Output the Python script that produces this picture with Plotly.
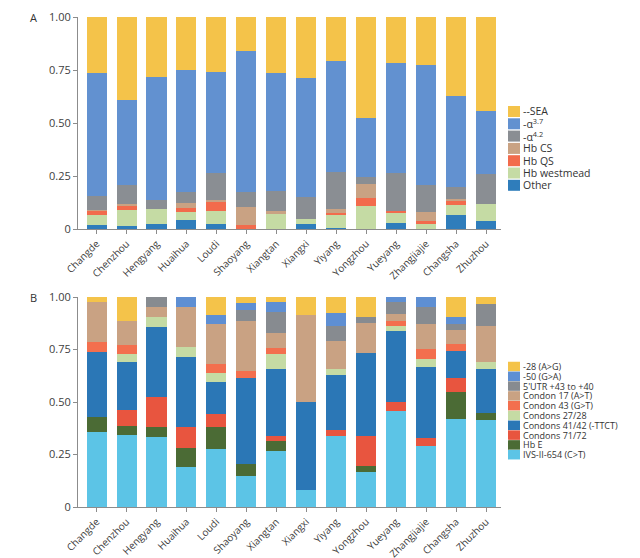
import plotly.graph_objects as go

cities = ["Changde", "Chenzhou", "Hengyang", "Huaihua", "Loudi", "Shaoyang", "Xiangtan",
          "Xiangxi", "Yiyang", "Yongzhou", "Yueyang", "Zhangjiajie", "Changsha", "Zhuzhou"]

# Panel A: segment heights (proportions)
a_names = ["Other", "Hb westmead", "Hb QS", "Hb CS", "-α<sup>4.2</sup>", "-α<sup>3.7</sup>", "--SEA"]
a_colors = ["#2F7DBB", "#C5DBA4", "#F26B4C", "#C9A283", "#8A8E93", "#6291D0", "#F4C34A"]
a_other    = [0.020, 0.016, 0.022, 0.041, 0.022, 0.000, 0.000, 0.025, 0.005, 0.000, 0.030, 0.000, 0.065, 0.038]
a_westmead = [0.045, 0.072, 0.071, 0.038, 0.062, 0.000, 0.073, 0.024, 0.060, 0.109, 0.047, 0.022, 0.047, 0.079]
a_qs       = [0.020, 0.024, 0.000, 0.022, 0.042, 0.020, 0.000, 0.000, 0.012, 0.039, 0.008, 0.016, 0.024, 0.000]
a_cs       = [0.006, 0.005, 0.000, 0.022, 0.010, 0.084, 0.012, 0.000, 0.016, 0.063, 0.000, 0.042, 0.004, 0.000]
a_a42      = [0.064, 0.090, 0.043, 0.052, 0.129, 0.071, 0.095, 0.102, 0.177, 0.035, 0.177, 0.127, 0.059, 0.142]
a_a37      = [0.580, 0.402, 0.580, 0.573, 0.475, 0.663, 0.558, 0.563, 0.523, 0.276, 0.523, 0.567, 0.430, 0.298]
a_sea      = [0.265, 0.391, 0.284, 0.252, 0.260, 0.162, 0.262, 0.286, 0.207, 0.478, 0.215, 0.226, 0.371, 0.443]

# Panel B
b_names = ["IVS-II-654 (C>T)", "Hb E", "Condons 71/72", "Condons 41/42 (-TTCT)", "Condons 27/28",
           "Condon 43 (G>T)", "Condon 17 (A>T)", "5'UTR +43 to +40", "-50 (G>A)", "-28 (A>G)"]
b_colors = ["#5CC4E6", "#4B6B35", "#E8553F", "#2B77B6", "#C5DBA4",
            "#F36F4E", "#C9A283", "#878B90", "#5E8FD3", "#F4C34A"]
b_ivs  = [0.357, 0.344, 0.333, 0.189, 0.278, 0.148, 0.267, 0.079, 0.337, 0.167, 0.459, 0.289, 0.417, 0.413]
b_hbe  = [0.072, 0.040, 0.046, 0.094, 0.103, 0.055, 0.047, 0.000, 0.000, 0.027, 0.000, 0.000, 0.129, 0.035]
b_7172 = [0.000, 0.076, 0.145, 0.096, 0.063, 0.000, 0.026, 0.000, 0.031, 0.146, 0.041, 0.041, 0.067, 0.000]
b_4142 = [0.309, 0.230, 0.333, 0.335, 0.151, 0.411, 0.319, 0.419, 0.262, 0.393, 0.337, 0.335, 0.128, 0.208]
b_2728 = [0.000, 0.039, 0.048, 0.048, 0.043, 0.000, 0.070, 0.000, 0.029, 0.000, 0.023, 0.041, 0.000, 0.033]
b_c43  = [0.048, 0.041, 0.000, 0.000, 0.045, 0.032, 0.028, 0.000, 0.000, 0.000, 0.024, 0.045, 0.034, 0.000]
b_c17  = [0.190, 0.116, 0.047, 0.190, 0.187, 0.238, 0.073, 0.418, 0.130, 0.145, 0.037, 0.122, 0.066, 0.173]
b_utr  = [0.000, 0.000, 0.048, 0.000, 0.000, 0.056, 0.099, 0.000, 0.073, 0.027, 0.055, 0.079, 0.029, 0.105]
b_m50  = [0.000, 0.000, 0.000, 0.048, 0.043, 0.033, 0.047, 0.000, 0.062, 0.000, 0.024, 0.048, 0.035, 0.000]
b_m28  = [0.024, 0.114, 0.000, 0.000, 0.087, 0.027, 0.024, 0.084, 0.076, 0.095, 0.000, 0.000, 0.095, 0.033]

a_series = [a_other, a_westmead, a_qs, a_cs, a_a42, a_a37, a_sea]
b_series = [b_ivs, b_hbe, b_7172, b_4142, b_2728, b_c43, b_c17, b_utr, b_m50, b_m28]

ticks_y = [0, 0.25, 0.5, 0.75, 1.0]
ticks_y_text = ["0", "0.25", "0.50", "0.75", "1.00"]

FONT = "Open Sans, Arial"
W, H = 640, 558
fig = go.Figure()
for name, col, vals in zip(a_names, a_colors, a_series):
    fig.add_trace(go.Bar(x=cities, y=vals, name=name, marker=dict(color=col, line=dict(width=0)),
                         xaxis="x", yaxis="y", showlegend=False))
for name, col, vals in zip(b_names, b_colors, b_series):
    fig.add_trace(go.Bar(x=cities, y=vals, name=name, marker=dict(color=col, line=dict(width=0)),
                         xaxis="x2", yaxis="y2", showlegend=False))

xdom = [78 / W, 501 / W]
line_common = dict(showline=True, linecolor="#8C8C8C", linewidth=1, ticks="outside",
                   tickcolor="#8C8C8C", ticklen=4, showgrid=False, zeroline=False, automargin=False)
xfont = dict(family=FONT, size=10, color="#404040")
yfont = dict(family=FONT, size=11, color="#404040")
fig.update_layout(
    width=W, height=H, autosize=False, margin=dict(l=0, r=0, t=0, b=0, pad=0, autoexpand=False),
    paper_bgcolor="white", plot_bgcolor="white", barmode="stack", bargap=0.33, showlegend=False,
    xaxis=dict(domain=xdom, anchor="y", range=[-0.62, 13.5], tickangle=-45, tickfont=xfont, **line_common),
    yaxis=dict(domain=[1 - 229 / H, 1 - 17 / H], anchor="x", range=[0, 1.0],
               tickvals=ticks_y, ticktext=ticks_y_text, tickfont=yfont, **line_common),
    xaxis2=dict(domain=xdom, anchor="y2", range=[-0.62, 13.5], tickangle=-45, tickfont=xfont, **line_common),
    yaxis2=dict(domain=[1 - 507 / H, 1 - 297 / H], anchor="x2", range=[0, 1.0],
                tickvals=ticks_y, ticktext=ticks_y_text, tickfont=yfont, **line_common),
)

shapes = []
annotations = []
for letter, ypix in (("A", 17), ("B", 297)):
    annotations.append(dict(x=33 / W, y=1 - ypix / H, xref="paper", yref="paper", text=letter,
                            showarrow=False, xanchor="center", yanchor="middle",
                            font=dict(family=FONT, size=11, color="#333")))


def add_legend(names, colors, y0, pitch, sq, fsize):
    for i, (n, c) in enumerate(zip(names[::-1], colors[::-1])):
        yc = y0 + i * pitch
        shapes.append(dict(type="rect", xref="paper", yref="paper",
                           x0=508 / W, x1=520 / W, y0=1 - (yc + sq / 2) / H, y1=1 - (yc - sq / 2) / H,
                           fillcolor=c, line=dict(width=0)))
        annotations.append(dict(x=522 / W, y=1 - yc / H, xref="paper", yref="paper", text=n,
                                showarrow=False, xanchor="left", yanchor="middle", borderpad=0,
                                font=dict(family=FONT, size=fsize, color="#333")))


add_legend(a_names, a_colors, 111.5, 12.3, 11, 10.5)
add_legend(b_names, b_colors, 366.5, 9.8, 9.5, 9)

fig.update_layout(shapes=shapes, annotations=annotations)
fig.write_html("out.html", config={"responsive": False, "displayModeBar": False},
               post_script="document.body.style.margin='0';document.body.style.overflow='hidden';")
